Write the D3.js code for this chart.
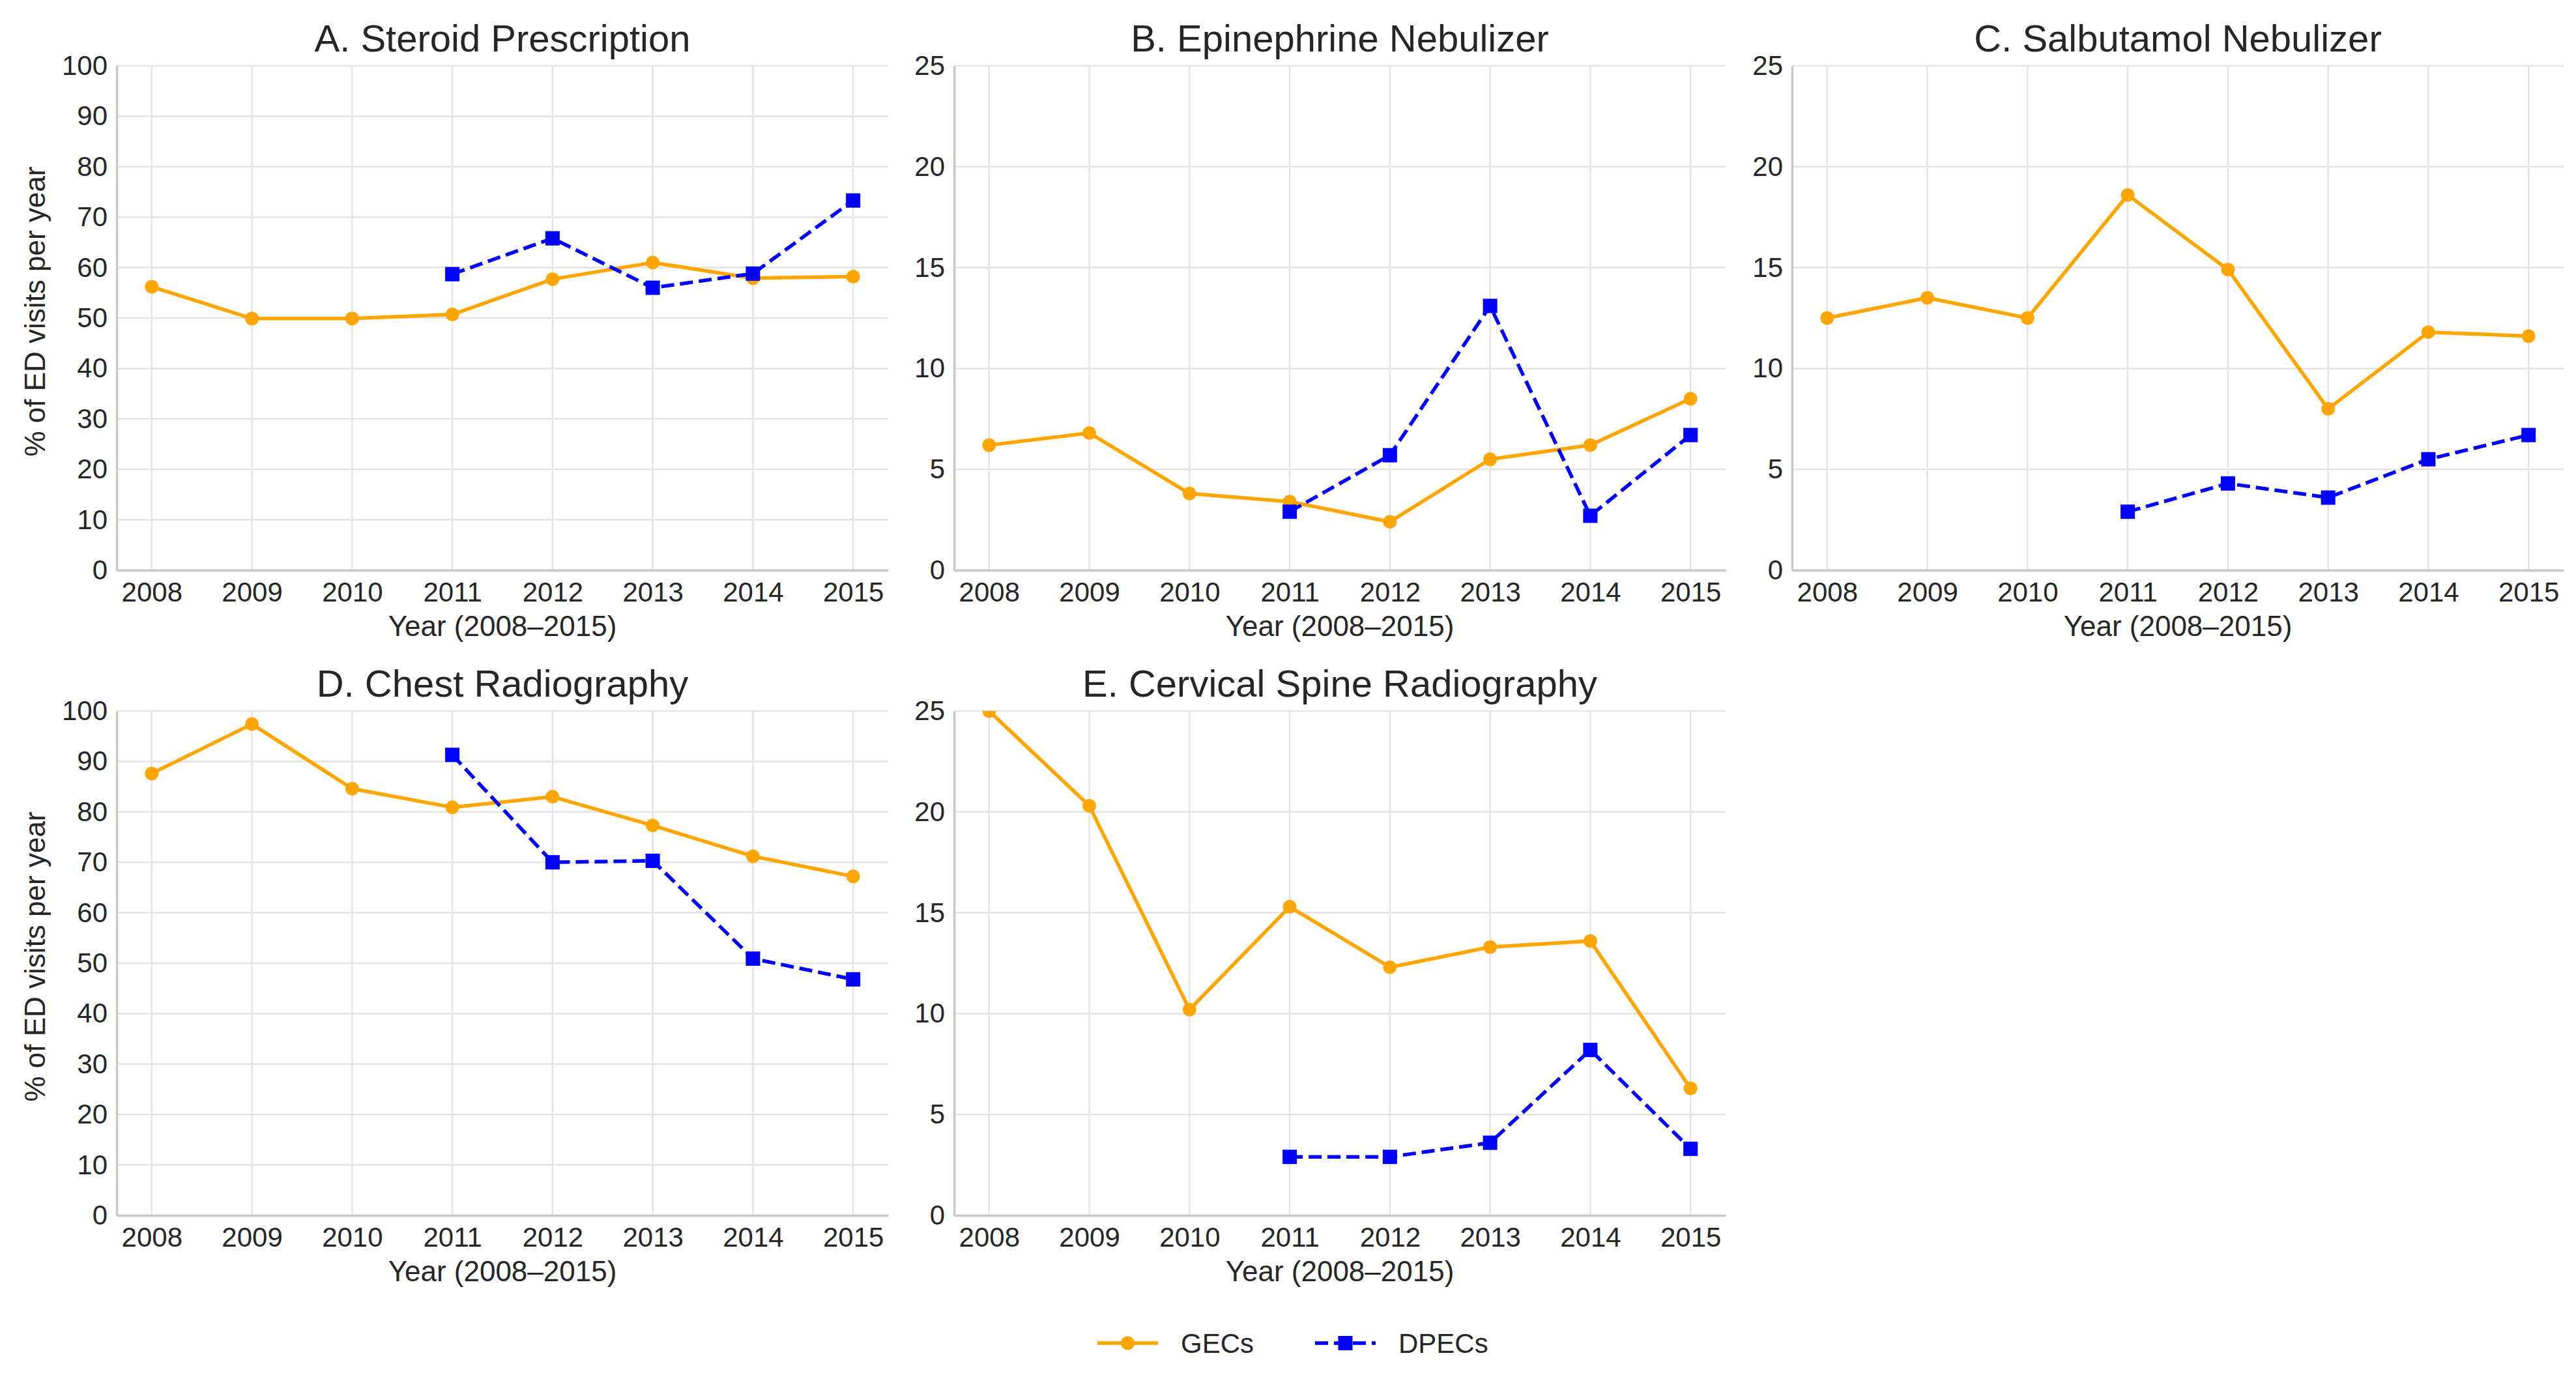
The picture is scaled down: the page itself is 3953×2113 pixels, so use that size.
<!DOCTYPE html>
<html>
<head>
<meta charset="utf-8">
<script src="https://cdn.jsdelivr.net/npm/d3@7"></script>
<style>
  body { margin: 0; background: #fff; }
  svg text { font-family: "Liberation Sans", Arial, sans-serif; fill: #262626; }
</style>
</head>
<body>
<div id="chart"></div>
<script>
// data
const years = [2008, 2009, 2010, 2011, 2012, 2013, 2014, 2015];
const dpecYears = [2011, 2012, 2013, 2014, 2015];

const titles = ["A. Steroid Prescription", "B. Epinephrine Nebulizer", "C. Salbutamol Nebulizer",
                "D. Chest Radiography", "E. Cervical Spine Radiography"];

const steroidGEC = [56.2, 49.9, 49.9, 50.7, 57.7, 61.0, 57.9, 58.2];
const steroidDPEC = [58.7, 65.8, 56.0, 58.8, 73.3];
const epiGEC = [6.2, 6.8, 3.8, 3.4, 2.4, 5.5, 6.2, 8.5];
const epiDPEC = [2.9, 5.7, 13.1, 2.7, 6.7];
const salbGEC = [12.5, 13.5, 12.5, 18.6, 14.9, 8.0, 11.8, 11.6];
const salbDPEC = [2.9, 4.3, 3.6, 5.5, 6.7];
const chestGEC = [87.6, 97.4, 84.6, 80.9, 83.0, 77.3, 71.2, 67.2];
const chestDPEC = [91.3, 70.0, 70.3, 50.9, 46.8];
const cspineGEC = [25.0, 20.3, 10.2, 15.3, 12.3, 13.3, 13.6, 6.3];
const cspineDPEC = [2.9, 2.9, 3.6, 8.2, 3.3];

const yMaxes = [100, 25, 25, 100, 25];
const yTickSteps = [10, 5, 5, 10, 5];

const seriesNames = ["GECs", "DPECs"];
const gecColor = "#FFA500";
const dpecColor = "#0000FF";

const W = 3953, H = 2113;
const svg = d3.select("#chart").append("svg")
    .attr("width", W).attr("height", H)
    .attr("viewBox", `0 0 ${W} ${H}`);

const plotW = 1184, plotH = 774;
const lefts = [179, 1464, 2750];
const tops = [101, 1091];

const panels = [
    { gec: steroidGEC, dpec: steroidDPEC },
    { gec: epiGEC, dpec: epiDPEC },
    { gec: salbGEC, dpec: salbDPEC },
    { gec: chestGEC, dpec: chestDPEC },
    { gec: cspineGEC, dpec: cspineDPEC }
];

// clip marks to the plot area, like the original
svg.append("defs").append("clipPath").attr("id", "plotClip")
    .append("rect").attr("x", 0).attr("y", 0).attr("width", plotW).attr("height", plotH);

panels.forEach((p, i) => {
    const col = i % 3, row = Math.floor(i / 3);
    const g = svg.append("g").attr("transform", `translate(${lefts[col]},${tops[row]})`);

    const x = d3.scaleLinear()
        .domain([2008 - 0.35, 2015 + 0.35])
        .range([0, plotW]);
    const y = d3.scaleLinear().domain([0, yMaxes[i]]).range([plotH, 0]);
    const yTicks = d3.range(0, yMaxes[i] + 0.001, yTickSteps[i]);

    // grid
    g.append("g").selectAll("line").data(yTicks).join("line")
        .attr("x1", 0).attr("x2", plotW)
        .attr("y1", d => y(d)).attr("y2", d => y(d))
        .attr("stroke", "#e3e3e3").attr("stroke-width", 2.5);
    g.append("g").selectAll("line").data(years).join("line")
        .attr("x1", d => x(d)).attr("x2", d => x(d))
        .attr("y1", 0).attr("y2", plotH)
        .attr("stroke", "#e3e3e3").attr("stroke-width", 2.5);

    // axes
    const xAxis = g.append("g").attr("transform", `translate(0,${plotH})`)
        .call(d3.axisBottom(x).tickValues(years).tickFormat(d3.format("d")).tickSize(0).tickPadding(18));
    const yAxis = g.append("g")
        .call(d3.axisLeft(y).tickValues(yTicks).tickSize(0).tickPadding(14));
    [xAxis, yAxis].forEach(a => {
        a.select(".domain").attr("stroke", "#c8c8c8").attr("stroke-width", 3.5);
        a.selectAll("text").attr("font-size", 42).attr("fill", "#262626")
            .attr("font-family", '"Liberation Sans", Arial, sans-serif');
    });

    // title and axis labels
    g.append("text").attr("x", plotW / 2).attr("y", -22)
        .attr("text-anchor", "middle").attr("font-size", 58).text(titles[i]);
    g.append("text").attr("x", plotW / 2).attr("y", plotH + 101)
        .attr("text-anchor", "middle").attr("font-size", 44).text("Year (2008\u20132015)");
    if (col === 0) {
        g.append("text")
            .attr("transform", `translate(${-110},${plotH / 2 - 10}) rotate(-90)`)
            .attr("text-anchor", "middle").attr("font-size", 44)
            .text("% of ED visits per year");
    }

    const line = d3.line().x(d => x(d[0])).y(d => y(d[1]));
    const gecPts = years.map((yr, k) => [yr, p.gec[k]]);
    const dpecPts = dpecYears.map((yr, k) => [yr, p.dpec[k]]);

    const marks = g.append("g").attr("clip-path", "url(#plotClip)");

    marks.append("path").datum(gecPts).attr("d", line)
        .attr("fill", "none").attr("stroke", gecColor).attr("stroke-width", 5.5)
        .attr("stroke-linejoin", "round");
    marks.append("g").selectAll("circle").data(gecPts).join("circle")
        .attr("cx", d => x(d[0])).attr("cy", d => y(d[1])).attr("r", 10.5)
        .attr("fill", gecColor);

    marks.append("path").datum(dpecPts).attr("d", line)
        .attr("fill", "none").attr("stroke", dpecColor).attr("stroke-width", 5.5)
        .attr("stroke-dasharray", "20,9");
    marks.append("g").selectAll("rect").data(dpecPts).join("rect")
        .attr("x", d => x(d[0]) - 11).attr("y", d => y(d[1]) - 11)
        .attr("width", 22).attr("height", 22)
        .attr("fill", dpecColor);
});

// legend
const legY = 2061;
const leg = svg.append("g");
const legX = [1684, 2018];
seriesNames.forEach((name, i) => {
    const lx = legX[i];
    const color = i === 0 ? gecColor : dpecColor;
    leg.append("line").attr("x1", lx).attr("x2", lx + 93)
        .attr("y1", legY).attr("y2", legY)
        .attr("stroke", color).attr("stroke-width", 5.5)
        .attr("stroke-dasharray", i === 0 ? null : "20,9");
    if (i === 0) {
        leg.append("circle").attr("cx", lx + 46.5).attr("cy", legY).attr("r", 10.5).attr("fill", color);
    } else {
        leg.append("rect").attr("x", lx + 35.5).attr("y", legY - 11)
            .attr("width", 22).attr("height", 22).attr("fill", color);
    }
    leg.append("text").attr("x", lx + 128).attr("y", legY + 15)
        .attr("font-size", 42).text(name);
});
</script>
</body>
</html>
